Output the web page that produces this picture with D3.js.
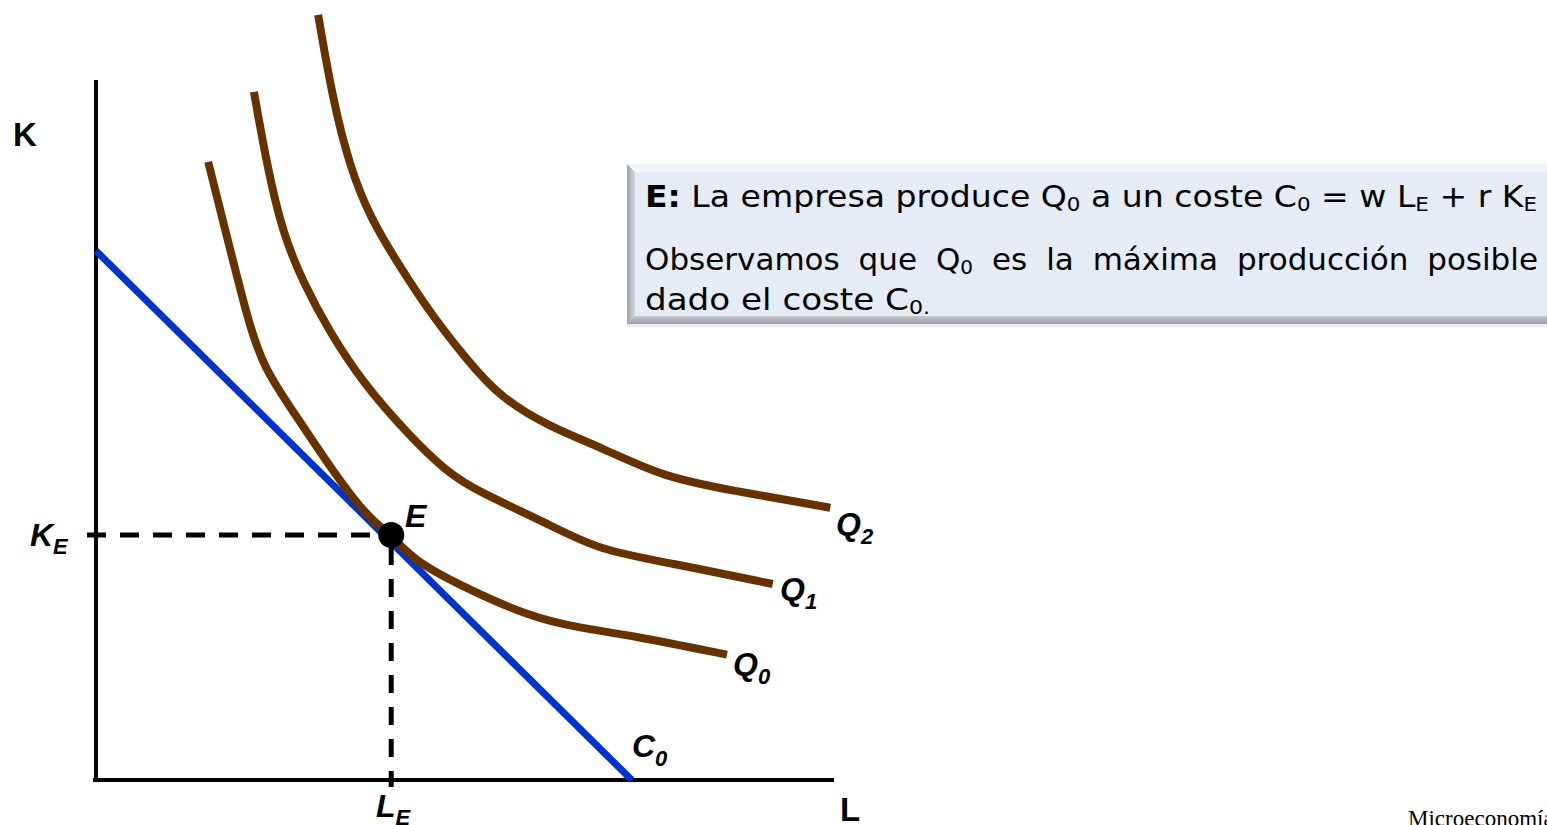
<!DOCTYPE html>
<html>
<head>
<meta charset="utf-8">
<script src="https://cdn.jsdelivr.net/npm/d3@7"></script>
<style>
  html, body { margin: 0; padding: 0; background: #fff; overflow: hidden; }
  svg { display: block; }
</style>
</head>
<body>
<svg id="chart" width="1547" height="825"></svg>
<script>
// Isoquants Q0, Q1, Q2 as (L, K) points
const q0 = [[1.52,8.83],[1.82,7.57],[2.05,6.61],[2.26,5.90],[2.72,5.19],[3.17,4.47],[3.67,3.76],[4.00,3.50],[4.30,3.14],[4.97,2.76],[5.88,2.33],[6.56,2.17],[7.24,2.07],[8.55,1.79]];
const q1 = [[2.14,9.83],[2.32,8.76],[2.53,7.81],[2.81,7.10],[3.17,6.39],[3.62,5.67],[4.21,4.96],[4.76,4.39],[5.20,4.11],[6.11,3.67],[6.79,3.29],[7.78,3.10],[9.17,2.80]];
const q2 = [[3.01,10.93],[3.21,9.71],[3.44,8.76],[3.71,8.04],[4.12,7.33],[4.57,6.61],[5.03,6.00],[5.47,5.47],[6.15,5.04],[6.83,4.76],[7.68,4.33],[8.59,4.14],[9.95,3.89]];
const isoNames = ["Q", "Q", "Q"];
const isoSubs = ["0", "1", "2"];
// Isocost line C0: intercepts on the K and L axes
const costK = 7.56;
const costL = 7.26;
// Optimum E
const LE = 4.0, KE = 3.5;

const svg = d3.select("#chart");
const x = d3.scaleLinear().domain([0, 10]).range([96, 834]);
const y = d3.scaleLinear().domain([0, 10]).range([780, 80]);

const brown = "#663300", blue = "#0033cc";
const labelFont = "'Liberation Sans', Arial, sans-serif";

// Axes
svg.append("line").attr("x1", x(0)).attr("y1", y(10)).attr("x2", x(0)).attr("y2", y(0) + 2)
  .attr("stroke", "#000").attr("stroke-width", 4);
svg.append("line").attr("x1", x(0) - 3).attr("y1", y(0)).attr("x2", x(10)).attr("y2", y(0))
  .attr("stroke", "#000").attr("stroke-width", 4);

// Isocost line
svg.append("line").attr("x1", x(0)).attr("y1", y(costK)).attr("x2", x(costL)).attr("y2", y(0))
  .attr("stroke", blue).attr("stroke-width", 7);

// Isoquants
const line = d3.line().x(d => x(d[0])).y(d => y(d[1])).curve(d3.curveBasis);
[q0, q1, q2].forEach(pts => {
  svg.append("path").attr("d", line(pts)).attr("fill", "none")
    .attr("stroke", brown).attr("stroke-width", 8);
});

// Dashed guides to E
svg.append("line").attr("x1", x(0) - 9).attr("y1", y(KE)).attr("x2", x(LE) - 12).attr("y2", y(KE))
  .attr("stroke", "#000").attr("stroke-width", 5).attr("stroke-dasharray", "19,14");
svg.append("line").attr("x1", x(LE)).attr("y1", y(KE) + 12).attr("x2", x(LE)).attr("y2", y(0) + 7)
  .attr("stroke", "#000").attr("stroke-width", 5).attr("stroke-dasharray", "18,14");

// Point E
svg.append("circle").attr("cx", x(LE)).attr("cy", y(KE)).attr("r", 13).attr("fill", "#000");

// Labels with subscripts
function label(px, py, main, sub, opts) {
  opts = opts || {};
  const t = svg.append("text").attr("x", px).attr("y", py)
    .attr("font-family", labelFont).attr("font-weight", "bold")
    .attr("font-style", opts.italic === false ? "normal" : "italic")
    .attr("font-size", opts.size || 32).attr("fill", "#000");
  t.append("tspan").text(main);
  if (sub) t.append("tspan").attr("font-size", opts.subSize || 22).attr("dy", opts.subDy || 9).text(sub);
  return t;
}
label(13, 146, "K", null, {italic: false, size: 33});
label(840, 821, "L", null, {italic: false, size: 33});
label(30, 546, "K", "E", {subDy: 8});
label(376, 817, "L", "E", {subDy: 8});
label(405, 527, "E");
const qPos = [[q0, 733, 675], [q1, 780, 600], [q2, 836, 535]];
qPos.forEach((p, i) => label(p[1], p[2], isoNames[i], isoSubs[i]));
label(632, 757, "C", "0");

// Note box with bevelled edges
const bx = 627, by = 164, bw = 940, bh = 160, bev = 8;
const defs = svg.append("defs");
const gl = defs.append("linearGradient").attr("id", "leftBevel").attr("x1", 0).attr("x2", 1).attr("y1", 0).attr("y2", 0);
gl.append("stop").attr("offset", 0).attr("stop-color", "#9ea2a8");
gl.append("stop").attr("offset", 1).attr("stop-color", "#d4d8de");
const gb = defs.append("linearGradient").attr("id", "bottomBevel").attr("x1", 0).attr("x2", 0).attr("y1", 0).attr("y2", 1);
gb.append("stop").attr("offset", 0).attr("stop-color", "#c2c6cc");
gb.append("stop").attr("offset", 1).attr("stop-color", "#9a9ea4");
svg.append("rect").attr("x", bx).attr("y", by).attr("width", bw).attr("height", bh).attr("fill", "#e6ecf4");
svg.append("polygon").attr("points", `${bx},${by} ${bx + bw},${by} ${bx + bw - bev},${by + bev} ${bx + bev},${by + bev}`).attr("fill", "#f2f5f9");
svg.append("polygon").attr("points", `${bx},${by} ${bx + bev},${by + bev} ${bx + bev},${by + bh - bev} ${bx},${by + bh}`).attr("fill", "url(#leftBevel)");
svg.append("polygon").attr("points", `${bx},${by + bh} ${bx + bev},${by + bh - bev} ${bx + bw - bev},${by + bh - bev} ${bx + bw},${by + bh}`).attr("fill", "url(#bottomBevel)");
svg.append("line").attr("x1", bx).attr("x2", bx + bw).attr("y1", by + bh + 1.5).attr("y2", by + bh + 1.5).attr("stroke", "#e8edf3").attr("stroke-width", 3);

const boxFont = "'DejaVu Sans', Verdana, sans-serif";
// One line of the note; optionally fitted to a width (word spacing or glyph stretch)
function boxLine(px, py, parts, width, justify) {
  const t = svg.append("text").attr("x", px).attr("y", py)
    .attr("font-family", boxFont).attr("font-size", 31).attr("fill", "#000");
  parts.forEach(p => {
    const s = t.append("tspan").text(p.t);
    if (p.b) s.attr("font-weight", "bold");
    if (p.sub) s.attr("font-size", 20).attr("baseline-shift", "-22%");
  });
  if (width) {
    const len = t.node().getComputedTextLength();
    if (justify && len < width) {
      const spaces = parts.map(p => p.t).join("").split(" ").length - 1;
      t.attr("word-spacing", (width - len) / spaces);
    } else {
      t.attr("textLength", width).attr("lengthAdjust", "spacingAndGlyphs");
    }
  }
  return t;
}
boxLine(645, 207, [{t: "E:", b: true}, {t: " La empresa produce Q"}, {t: "0", sub: true}, {t: " a un coste C"}, {t: "0", sub: true}, {t: " = w L"}, {t: "E", sub: true}, {t: " + r K"}, {t: "E", sub: true}], 892, false);
boxLine(645, 270, [{t: "Observamos que Q"}, {t: "0", sub: true}, {t: " es la máxima producción posible"}], 893, true);
boxLine(645, 310, [{t: "dado el coste  C"}, {t: "0.", sub: true}], 285, false);

// Footer
svg.append("text").attr("x", 1408).attr("y", 826).attr("font-family", "'Liberation Serif', 'Times New Roman', serif")
  .attr("font-size", 23).attr("fill", "#000").text("Microeconomía");
</script>
</body>
</html>
